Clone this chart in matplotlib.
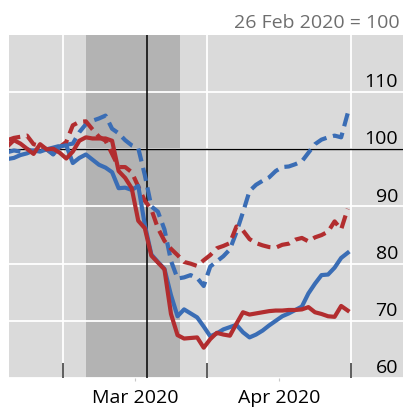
import numpy as np
import pandas as pd
import matplotlib
matplotlib.use("Agg")
import matplotlib.pyplot as plt

plt.rcParams["font.family"] = ["Open Sans", "DejaVu Sans"]

# business days, 18 Feb to 30 Apr 2020
dates = pd.bdate_range("2020-02-18", "2020-04-30")

blue_solid = [98.3, 98.5, 99.0, 99.3, 99.8, 99.6, 100.0, 99.1, 100.5, 100.7,
              97.6, 98.5, 99.1, 98.2, 97.3, 96.8, 96.0, 93.2, 93.3, 92.9,
              93.6, 86.8, 81.6, 80.3, 79.1, 74.5, 70.8, 72.0, 71.3, 70.6,
              69.0, 67.3, 67.8, 68.5, 68.9, 69.3, 68.0, 67.1, 67.6, 68.3,
              69.2, 70.0, 70.8, 71.3, 71.9, 72.5, 74.8, 76.5, 78.0, 78.1,
              79.3, 81.0, 81.9]
blue_dashed = [99.5, 99.8, 99.6, 100.0, 99.7, 99.9, 100.0, 100.3, 100.6, 100.8,
               101.0, 103.0, 104.4, 105.0, 105.4, 105.9, 103.6, 102.8, 101.6, 100.7,
               100.2, 95.5, 90.0, 89.1, 86.0, 80.5, 77.4, 77.6, 78.0, 77.5,
               76.1, 79.5, 80.4, 81.3, 82.5, 85.5, 89.0, 92.7, 93.8, 94.5,
               95.1, 96.2, 96.9, 97.0, 97.4, 97.9, 99.4, 100.9, 101.7, 102.1,
               102.4, 102.1, 106.3]
red_solid = [100.5, 101.6, 101.0, 100.1, 99.2, 100.9, 100.0, 100.1, 99.4, 98.4,
             99.6, 101.5, 102.1, 101.9, 101.9, 101.9, 101.5, 96.2, 95.0, 93.2,
             87.5, 86.2, 81.4, 80.2, 79.0, 71.2, 67.5, 66.9, 67.0, 67.1,
             65.3, 66.8, 67.9, 67.6, 67.4, 69.5, 71.5, 71.1, 71.3, 71.5,
             71.7, 71.8, 71.8, 71.9, 71.9, 72.0, 72.4, 71.5, 71.2, 70.8,
             70.7, 72.6, 71.8]
red_dashed = [101.6, 102.0, 102.2, 102.4, 100.9, 100.6, 100.0, 99.2, 100.4, 101.3,
              104.2, 104.8, 104.9, 103.5, 102.2, 101.5, 99.2, 96.9, 96.9, 96.0,
              93.5, 91.0, 89.5, 86.2, 84.0, 82.6, 81.5, 80.3, 80.0, 79.6,
              80.6, 81.5, 82.7, 83.1, 83.6, 86.5, 85.8, 84.3, 83.6, 83.2,
              82.9, 82.8, 83.3, 83.5, 84.2, 84.5, 83.9, 84.6, 85.0, 85.6,
              87.4, 86.0, 89.6]

y_ticks = [60, 70, 80, 90, 100, 110]
month_starts = ["2020-03-02", "2020-04-01", "2020-05-01"]
month_labels = ["Mar 2020", "Apr 2020"]
shade = (3.0, 17.4)     # business days after 2 Mar
event = 12.3

blue = "#3a6db5"
red = "#b22d2f"

# x = business days counted from 2 Mar 2020
day0 = np.datetime64("2020-03-02")
x = np.busday_count(day0, dates.values.astype("datetime64[D]"))
bounds = np.busday_count(day0, np.array(month_starts, dtype="datetime64[D]")) - 0.5
mids = (bounds[:-1] + bounds[1:]) / 2

fig = plt.figure(figsize=(4.03, 4.11), dpi=100)
ax = fig.add_axes([9 / 403, 33 / 411, 394 / 403, 343 / 411])
ax.set_facecolor("#dadada")
ax.set_xlim(-8.75, 51.45)
ax.set_ylim(60, 120)

ax.axvspan(*shade, color="#b3b3b3", lw=0, zorder=0.5)
for b in bounds:
    ax.axvline(b, color="white", lw=1.3, zorder=1)
for v in y_ticks:
    ax.axhline(v, color="white", lw=1.3, zorder=1)
ax.axhline(100, color="black", lw=1.0, zorder=2)
ax.axvline(event, color="black", lw=1.1, zorder=2)

ax.plot(x, blue_dashed, color=blue, lw=3.0, dashes=(3.2, 1.6), zorder=3)
ax.plot(x, red_dashed, color=red, lw=3.0, dashes=(3.2, 1.6), zorder=3)
ax.plot(x, blue_solid, color=blue, lw=3.0, zorder=4)
ax.plot(x, red_solid, color=red, lw=3.0, zorder=5)

for s in ax.spines.values():
    s.set_visible(False)

ax.set_yticks([])
for v in y_ticks:
    ax.annotate(str(v), xy=(1, v), xycoords=("axes fraction", "data"),
                xytext=(-3.6, 3.6), textcoords="offset points",
                ha="right", va="baseline", fontsize=14, zorder=6)

ax.set_xticks(bounds)
ax.set_xticklabels([])
ax.tick_params(axis="x", which="major", direction="in", length=10.5,
               width=1.1, color="#333333")
ax.set_xticks(mids, month_labels, minor=True)
ax.tick_params(axis="x", which="minor", direction="out", length=2,
               width=0.8, color="#c8c8c8", labelsize=14, pad=6)

fig.text(400 / 403, 1 - 28.5 / 411, "26 Feb 2020 = 100", ha="right",
         va="baseline", fontsize=14, color="#6e6e6e")

fig.savefig("out.png", dpi=100)
